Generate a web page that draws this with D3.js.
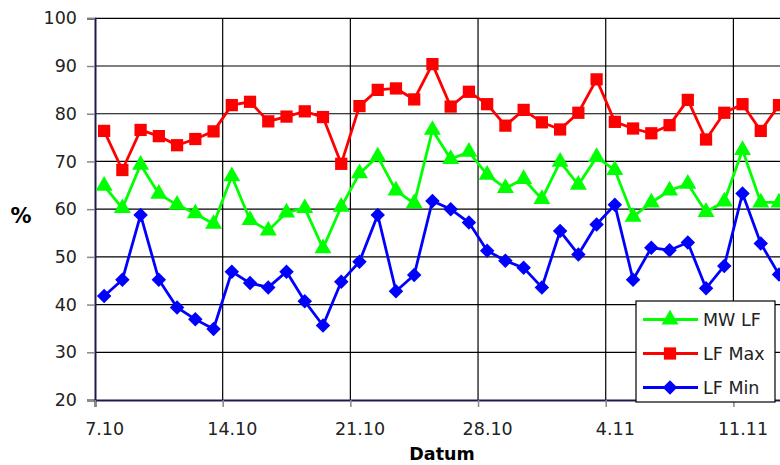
<!DOCTYPE html>
<html>
<head>
<meta charset="utf-8">
<script src="https://cdn.jsdelivr.net/npm/d3@7"></script>
<style>
  body { margin: 0; background: #fff; }
  svg { display: block; font-family: "DejaVu Sans", sans-serif; }
</style>
</head>
<body>
<div id="chart"></div>
<script>
const dates = [
  "7.10","8.10","9.10","10.10","11.10","12.10","13.10","14.10","15.10","16.10",
  "17.10","18.10","19.10","20.10","21.10","22.10","23.10","24.10","25.10","26.10",
  "27.10","28.10","29.10","30.10","31.10","1.11","2.11","3.11","4.11","5.11",
  "6.11","7.11","8.11","9.11","10.11","11.11","12.11","13.11"
];
const mwLF = [
  64.9, 60.2, 69.3, 63.2, 60.9, 59.1, 56.9, 66.9, 57.7, 55.5,
  59.3, 60.2, 51.8, 60.5, 67.5, 71.0, 63.9, 61.2, 76.6, 70.5,
  72.0, 67.2, 64.4, 66.3, 62.1, 69.9, 65.1, 70.9, 68.2, 58.4,
  61.4, 63.9, 65.3, 59.4, 61.6, 72.4, 61.4, 61.4
];
const lfMax = [
  76.4, 68.2, 76.6, 75.3, 73.4, 74.7, 76.3, 81.8, 82.5, 78.4,
  79.4, 80.5, 79.3, 69.5, 81.6, 85.0, 85.3, 83.0, 90.4, 81.5,
  84.6, 82.0, 77.5, 80.8, 78.2, 76.7, 80.2, 87.2, 78.3, 76.9,
  75.9, 77.6, 82.9, 74.6, 80.2, 82.0, 76.4, 81.8
];
const lfMin = [
  41.8, 45.2, 58.8, 45.2, 39.4, 36.9, 34.9, 46.9, 44.5, 43.6,
  46.9, 40.7, 35.6, 44.8, 49.0, 58.8, 42.8, 46.2, 61.7, 60.0,
  57.2, 51.3, 49.2, 47.7, 43.6, 55.4, 50.5, 56.8, 60.9, 45.2,
  51.9, 51.4, 53.0, 43.4, 48.1, 63.3, 52.8, 46.3
];
const yTicks = [20, 30, 40, 50, 60, 70, 80, 90, 100];
const xTickIdx = [0, 7, 14, 21, 28, 35];

const series = [
  { name: "MW LF", values: mwLF, color: "#00ff00", marker: d3.symbolTriangle, size: 125, rot: 0 },
  { name: "LF Max", values: lfMax, color: "#ff0000", marker: d3.symbolSquare, size: 150, rot: 0 },
  { name: "LF Min", values: lfMin, color: "#0000ff", marker: d3.symbolSquare, size: 105, rot: 45 }
];

const W = 780, H = 465;
const plotLeft = 95, plotTop = 18.3, plotBottom = 400;
const dayW = 18.24;

const x = d3.scaleLinear().domain([0, dates.length]).range([plotLeft, plotLeft + dates.length * dayW]);
const y = d3.scaleLinear().domain([20, 100]).range([plotBottom, plotTop]);

const svg = d3.select("#chart").append("svg")
  .attr("width", W).attr("height", H);

svg.append("rect").attr("width", W).attr("height", H).attr("fill", "#fff");

// horizontal gridlines
svg.append("g")
  .selectAll("line")
  .data(yTicks.filter(v => v > 20))
  .join("line")
  .attr("x1", plotLeft).attr("x2", W)
  .attr("y1", d => y(d)).attr("y2", d => y(d))
  .attr("stroke", "#000").attr("stroke-width", 1.2);

// vertical gridlines at week boundaries
svg.append("g")
  .selectAll("line")
  .data(xTickIdx.filter(i => i > 0))
  .join("line")
  .attr("x1", d => x(d)).attr("x2", d => x(d))
  .attr("y1", plotTop).attr("y2", plotBottom)
  .attr("stroke", "#000").attr("stroke-width", 1.2);

// y axis
const yAxis = svg.append("g")
  .attr("transform", `translate(${plotLeft},0)`)
  .call(d3.axisLeft(y).tickValues(yTicks).tickSize(8).tickPadding(10));
yAxis.select(".domain").attr("stroke", "#1c1c4a").attr("stroke-width", 2);
yAxis.selectAll(".tick line").attr("stroke", "#888").attr("stroke-width", 1.5);
yAxis.selectAll("text").attr("font-size", 17.5).attr("fill", "#222")
  .attr("font-family", "DejaVu Sans");

// x axis: ticks on day boundaries, labels centred on the day
const xAxis = svg.append("g")
  .attr("transform", `translate(0,${plotBottom})`)
  .call(d3.axisBottom(x).tickValues(xTickIdx).tickSize(7).tickPadding(16)
    .tickFormat(i => dates[i]));
xAxis.select(".domain").attr("stroke", "#1c1c4a").attr("stroke-width", 2);
xAxis.selectAll(".tick line").attr("stroke", "#888").attr("stroke-width", 1.5);
xAxis.selectAll("text").attr("font-size", 17.5).attr("fill", "#222")
  .attr("font-family", "DejaVu Sans")
  .attr("dx", dayW / 2);

// axis titles
svg.append("text").attr("x", 21).attr("y", 223)
  .attr("text-anchor", "middle").attr("font-weight", "bold").attr("font-size", 21)
  .text("%");
svg.append("text").attr("x", 442).attr("y", 460)
  .attr("text-anchor", "middle").attr("font-weight", "bold").attr("font-size", 17.5)
  .text("Datum");

// series
const line = d3.line().x((d, i) => x(i + 0.5)).y(d => y(d));
series.forEach(s => {
  const g = svg.append("g");
  g.append("path")
    .datum(s.values)
    .attr("d", line)
    .attr("fill", "none")
    .attr("stroke", s.color)
    .attr("stroke-width", 2.8);
  g.selectAll("path.m")
    .data(s.values)
    .join("path")
    .attr("class", "m")
    .attr("transform", (d, i) => `translate(${x(i + 0.5)},${y(d)}) rotate(${s.rot})`)
    .attr("d", d3.symbol().type(s.marker).size(s.size))
    .attr("fill", s.color);
});

// legend
const lg = svg.append("g").attr("transform", "translate(636,301)");
lg.append("rect").attr("width", 139).attr("height", 101)
  .attr("fill", "#fff").attr("stroke", "#000").attr("stroke-width", 1.2);
series.forEach((s, k) => {
  const cy = 18.5 + k * 34;
  lg.append("line").attr("x1", 7).attr("x2", 62).attr("y1", cy).attr("y2", cy)
    .attr("stroke", s.color).attr("stroke-width", 2.8);
  lg.append("path").attr("transform", `translate(34,${cy}) rotate(${s.rot})`)
    .attr("d", d3.symbol().type(s.marker).size(s.size))
    .attr("fill", s.color);
  lg.append("text").attr("x", 67).attr("y", cy + 6)
    .attr("font-size", 17.5).attr("fill", "#222")
    .text(s.name);
});
</script>
</body>
</html>
